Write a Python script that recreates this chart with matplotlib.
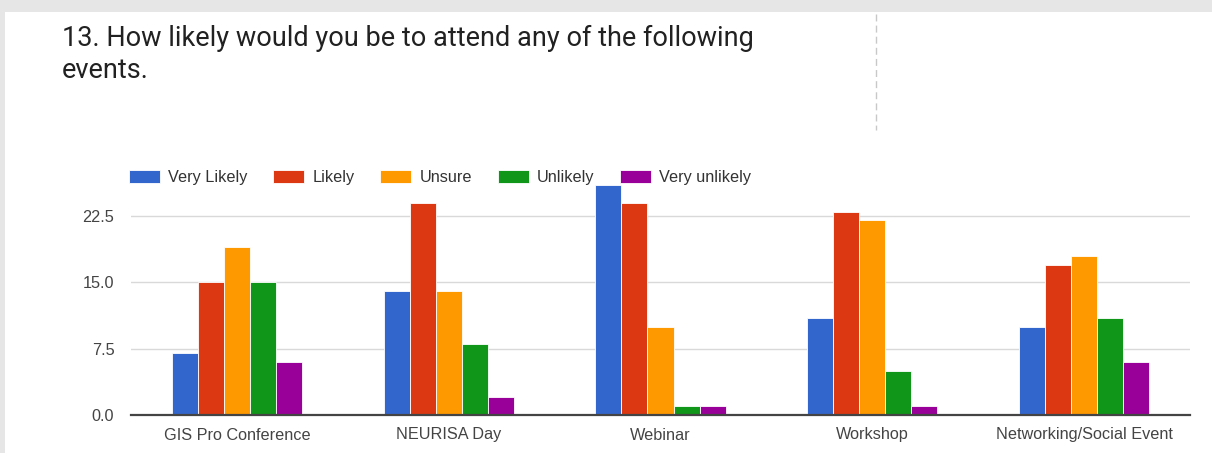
import numpy as np
import matplotlib
matplotlib.use("Agg")
import matplotlib.pyplot as plt
from matplotlib.patches import Rectangle

# survey data
events = ["GIS Pro Conference", "NEURISA Day", "Webinar", "Workshop", "Networking/Social Event"]
answers = ["Very Likely", "Likely", "Unsure", "Unlikely", "Very unlikely"]
very_likely = [7, 14, 26, 11, 10]
likely = [15, 24, 24, 23, 17]
unsure = [19, 14, 10, 22, 18]
unlikely = [15, 8, 1, 5, 11]
very_unlikely = [6, 2, 1, 1, 6]
yticks = [0.0, 7.5, 15.0, 22.5]

colors = ["#3366cc", "#dc3912", "#ff9900", "#109618", "#990099"]
series = [very_likely, likely, unsure, unlikely, very_unlikely]

plt.rcParams['font.family'] = ['Liberation Sans', 'DejaVu Sans']

fig = plt.figure(figsize=(12.12, 4.53), dpi=100)
fig.patch.set_facecolor("#e6e6e6")

# white card behind everything
card = Rectangle((5/1212, 0), 1 - 5/1212, 1 - 12/453, transform=fig.transFigure,
                 facecolor="white", edgecolor="none", zorder=-10)
fig.patches.append(card)

# dashed divider at top right
fig.add_artist(plt.Line2D([876/1212, 876/1212], [1 - 14/453, 1 - 130/453],
                          transform=fig.transFigure, color="#c8c8c8",
                          lw=1, linestyle=(0, (5, 3))))

fig.text(62/1212, 1 - 25/453, "13. How likely would you be to attend any of the following\nevents.",
         fontsize=19.5, family=['Roboto', 'DejaVu Sans'], color="#212121",
         va="top", ha="left", linespacing=1.25)

ax = fig.add_axes([131/1212, 38/453, (1190 - 131)/1212, (415 - 185)/453])
ax.set_facecolor("none")

x = np.arange(len(events))
w = 0.123
for i, (vals, c, lab) in enumerate(zip(series, colors, answers)):
    ax.bar(x + (i - 2) * w, vals, width=w, color=c, edgecolor="white",
           linewidth=0.6, label=lab, zorder=3)

ax.set_xlim(-0.5, len(events) - 0.5)
ax.set_ylim(0, 26)
ax.set_yticks(yticks)
ax.set_yticklabels([f"{v:.1f}" for v in yticks])
ax.set_xticks(x)
ax.set_xticklabels(events)
ax.tick_params(axis="both", length=0, labelsize=11.7, labelcolor="#444444")
ax.tick_params(axis="y", pad=12)
ax.tick_params(axis="x", pad=9)
ax.grid(axis="y", color="#d9d9d9", linewidth=1, zorder=0)
for s in ["top", "right", "left"]:
    ax.spines[s].set_visible(False)
ax.spines["bottom"].set_color("#444444")
ax.spines["bottom"].set_linewidth(1.6)
ax.spines["bottom"].set_zorder(4)

leg = ax.legend(loc="lower left", bbox_to_anchor=(-0.002, 0.998), ncol=5, frameon=False,
                fontsize=11.7, handlelength=1.9, handleheight=0.85, handletextpad=0.5,
                columnspacing=1.6, borderaxespad=0.0, borderpad=0.0)
for t in leg.get_texts():
    t.set_color("#333333")

fig.savefig("out.png", dpi=100, facecolor=fig.get_facecolor())
